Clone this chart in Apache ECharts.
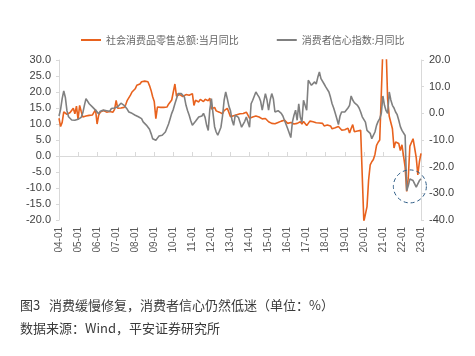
<!DOCTYPE html>
<html><head><meta charset="utf-8">
<script src="https://cdn.jsdelivr.net/npm/echarts@6/dist/echarts.min.js"></script>
<style>html,body{margin:0;padding:0;background:#fff}#c{width:475px;height:356px}</style>
</head><body><div id="c"></div>
<script>
// Categories: monthly from 2004-01 to 2023-01, label format yy-MM
const months = [];
for (let y = 2004; y <= 2023; y++) {
  for (let m = 1; m <= 12; m++) {
    if (y === 2023 && m > 1) break;
    months.push(String(y % 100).padStart(2, '0') + '-' + String(m).padStart(2, '0'));
  }
}

const seriesNames = ['社会消费品零售总额:当月同比', '消费者信心指数:月同比'];

// 社会消费品零售总额:当月同比 (left axis, %)
const retailSales = [
  11.8, 9.2, 10.5, 13.8, 13.3, 13.0, 13.2, 13.6, 13.0, 14.9, 13.2, 15.6,   // 2004
  11.4, 15.8, 13.9, 12.2, 12.6, 12.5, 12.7, 12.7, 12.7, 12.8, 13.2, 14.5,  // 2005
  10.0, 12.8, 13.7, 13.3, 14.2, 13.9, 13.7, 13.8, 13.9, 14.3, 13.7, 14.6,  // 2006
  17.4, 14.9, 15.3, 15.0, 15.3, 15.2, 16.0, 17.4, 18.0, 19.0, 20.0, 20.5,  // 2007
  21.0, 22.1, 21.6, 22.5, 23.2, 23.3, 23.4, 23.3, 23.2, 22.0, 20.5, 18.5,  // 2008
  17.0, 11.7, 15.3, 14.8, 15.2, 15.0, 15.2, 15.4, 15.3, 16.2, 15.8, 17.5,  // 2009
  17.9, 22.5, 18.7, 19.0, 19.2, 18.9, 18.6, 18.9, 19.2, 19.0, 19.0, 19.4,  // 2010
  19.5, 15.8, 17.4, 17.1, 16.9, 17.7, 17.2, 17.0, 17.7, 17.2, 17.3, 18.1,  // 2011
  14.7, 14.7, 15.2, 14.1, 13.8, 13.7, 13.1, 13.2, 14.2, 14.5, 14.9, 15.2,  // 2012
  12.3, 12.3, 12.6, 12.8, 12.9, 13.3, 13.2, 13.4, 13.3, 13.3, 13.7, 13.6,  // 2013
  11.8, 11.8, 12.2, 11.9, 12.5, 12.4, 12.2, 11.9, 11.6, 11.5, 11.7, 11.9,  // 2014
  10.7, 10.7, 10.2, 10.0, 10.1, 10.6, 10.5, 10.8, 10.9, 11.0, 11.2, 11.1,  // 2015
  10.2, 10.2, 10.5, 10.1, 10.0, 10.6, 10.2, 10.6, 10.7, 10.0, 10.8, 10.9,  // 2016
  9.5, 9.5, 10.9, 10.7, 10.7, 11.0, 10.4, 10.1, 10.3, 10.0, 10.2, 9.4,     // 2017
  9.7, 9.7, 10.1, 9.4, 8.5, 9.0, 8.8, 9.0, 9.2, 8.6, 8.1, 8.2,             // 2018
  8.2, 8.2, 8.7, 7.2, 8.6, 9.8, 7.6, 7.5, 7.8, 7.2, 8.0, 8.0,              // 2019
  -20.5, -20.5, -15.8, -7.5, -2.8, -1.8, -1.1, 0.5, 3.3, 4.3, 5.0, 4.6,    // 2020
  33.8, 33.8, 34.2, 17.7, 12.4, 12.1, 8.5, 2.5, 4.4, 4.9, 3.9, 1.7,        // 2021
  3.5, 3.0, -3.5, -11.1, -6.7, 3.1, 2.7, 5.4, 2.5, -0.5, -5.9, -1.8,       // 2022
  0.8                                                                      // 2023
];

// 消费者信心指数:月同比 (right axis, %)
const consumerConfidence = [
  -1.0, 1.5, 5.5, 8.4, 6.0, 1.0, -1.3, -1.8, -2.5, -2.3, -2.6, -2.0,       // 2004
  -2.2, -2.0, -1.5, 0.2, 3.0, 5.5, 4.8, 3.6, 3.0, 2.4, 1.8, 1.2,           // 2005
  0.5, -0.2, 0.8, 0.3, 1.2, 0.6, 1.0, 1.5, 0.8, 1.8, 1.4, 2.0,             // 2006
  2.0, 2.5, 3.1, 3.8, 3.1, 3.0, 2.4, 1.5, 0.5, 0.2, 0.0, -0.5,             // 2007
  -0.7, -1.0, -1.3, -1.3, -2.0, -3.2, -3.6, -4.4, -4.6, -6.0, -7.6, -9.5,  // 2008
  -9.9, -10.1, -9.3, -8.5, -8.8, -8.2, -7.5, -7.0, -5.5, -4.0, -2.0, 0.0,  // 2009
  1.5, 3.6, 5.5, 7.4, 7.6, 7.4, 7.0, 6.1, 3.0, 1.0, -0.7, -2.8,            // 2010
  -4.5, -4.0, -3.0, -2.6, -1.4, -1.5, -1.0, 0.0, -1.5, -4.5, -6.4, 1.5,    // 2011
  5.5, 0.0, -5.0, -7.0, -8.2, -7.5, -5.2, -1.0, 4.9, 8.0, 5.5, 2.7,        // 2012
  1.0, -2.6, -4.5, -0.7, 0.0, -1.5, -3.3, -5.2, -4.5, -3.0, -1.4, -2.0,    // 2013
  -5.2, 3.6, 4.9, 4.9, 8.0, 7.0, 6.1, 4.5, 1.2, 4.5, 7.4, 5.0,             // 2014
  1.2, 5.0, 7.4, 5.5, 0.5, 0.0, 1.0, 0.5, 0.0, -1.0, -2.6, -2.6,           // 2015
  -5.7, -6.0, -9.1, -3.3, -0.7, 1.2, -2.6, 3.6, -1.5, -3.3, 4.9, 3.0,      // 2016
  1.2, 12.4, 11.8, 10.5, 9.9, 11.8, 11.0, 13.5, 15.5, 13.0, 12.4, 11.0,    // 2017
  9.9, 9.3, 8.0, 6.0, 3.6, 2.0, 0.0, -2.0, -4.2, -1.0, 0.5, 0.5,           // 2018
  0.5, 1.2, 2.0, 3.0, 6.5, 5.0, 4.0, 3.6, 3.0, 2.0, 0.5, -1.3,             // 2019
  -1.8, -3.3, -6.4, -6.8, -7.5, -9.5, -10.1, -7.0, -4.5, -3.0, -2.0, 0.0,  // 2020
  6.5, 3.0, 1.0, 0.0, 8.0, 5.0, 3.0, 2.0, 0.5, -0.5, -2.6, -5.0,           // 2021
  -6.4, -7.0, -8.3, -29.0, -27.1, -24.6, -24.6, -25.2, -25.8, -27.7, -27.5, -25.2, // 2022
  -24.6                                                                    // 2023
];

const leftAxisRange = [-20, 30, 5];
const rightAxisRange = [-40, 20, 10];

const ORANGE = '#E8621E';
const GRAY = '#808080';
const AXIS = '#D9D9D9';
const LABEL = '#404040';
const latin = 'Liberation Sans, Arial, sans-serif';
const cjk = '"Noto Sans CJK SC", sans-serif';

const chart = echarts.init(document.getElementById('c'), null, {renderer: 'canvas'});
chart.setOption({
  animation: false,
  backgroundColor: '#fff',
  grid: {left: 59, right: 54, top: 60, bottom: 136, containLabel: false},
  legend: {
    data: seriesNames,
    left: 76, top: 30,
    icon: 'rect', itemWidth: 20, itemHeight: 2, itemGap: 38,
    textStyle: {fontSize: 10, color: '#666', fontFamily: cjk}
  },
  xAxis: [{
    type: 'category', data: months, boundaryGap: false, position: 'bottom',
    axisLine: {show: false, onZero: false},
    axisTick: {show: false},
    splitLine: {show: false},
    axisLabel: {interval: 11, rotate: 90, fontSize: 10, color: '#595959', fontFamily: latin, margin: 7}
  }, {
    type: 'category', data: months, boundaryGap: false, position: 'bottom',
    axisLine: {show: true, onZero: true, onZeroAxisIndex: 0, lineStyle: {color: AXIS, width: 1}},
    axisTick: {show: true, inside: true, interval: 11, length: 4, lineStyle: {color: AXIS}},
    axisLabel: {show: false},
    splitLine: {show: false}
  }],
  yAxis: [{
    type: 'value', position: 'left',
    min: leftAxisRange[0], max: leftAxisRange[1], interval: leftAxisRange[2],
    axisLine: {show: true, lineStyle: {color: AXIS}},
    axisTick: {show: true, length: 3, lineStyle: {color: AXIS}},
    splitLine: {show: false},
    axisLabel: {formatter: v => v.toFixed(1), color: LABEL, fontSize: 11, fontFamily: latin, margin: 8}
  }, {
    type: 'value', position: 'right',
    min: rightAxisRange[0], max: rightAxisRange[1], interval: rightAxisRange[2],
    axisLine: {show: true, lineStyle: {color: AXIS}},
    axisTick: {show: true, length: 3, lineStyle: {color: AXIS}},
    splitLine: {show: false},
    axisLabel: {formatter: v => v.toFixed(1), color: LABEL, fontSize: 11, fontFamily: latin, margin: 8}
  }],
  series: [{
    name: seriesNames[0], type: 'line', data: retailSales,
    xAxisIndex: 0, yAxisIndex: 0, showSymbol: false, symbol: 'none', clip: true,
    lineStyle: {color: ORANGE, width: 1.6}, itemStyle: {color: ORANGE}, z: 2
  }, {
    name: seriesNames[1], type: 'line', data: consumerConfidence,
    xAxisIndex: 0, yAxisIndex: 1, showSymbol: false, symbol: 'none', clip: true,
    lineStyle: {color: GRAY, width: 1.6}, itemStyle: {color: GRAY}, z: 3
  }]
});

// Dashed highlight circle anchored to data coordinates (2022-06, -27.4 on right axis)
const center = chart.convertToPixel({xAxisIndex: 0, yAxisIndex: 1}, ['22-06', -27.4]);
chart.setOption({
  graphic: [
    {type: 'circle', shape: {cx: center[0], cy: center[1], r: 16.5},
     style: {fill: 'none', stroke: '#2E5D87', lineWidth: 1, lineDash: [4, 3]}, z: 10},
    {type: 'text', left: 20, top: 299,
     style: {text: '图3   消费缓慢修复，消费者信心仍然低迷（单位：%）', font: '13px "Noto Sans CJK SC", sans-serif', fill: '#3a3a3a'}},
    {type: 'text', left: 20, top: 322,
     style: {text: '数据来源：Wind，平安证券研究所', font: '13px "Noto Sans CJK SC", sans-serif', fill: '#3a3a3a'}}
  ]
});
</script></body></html>
